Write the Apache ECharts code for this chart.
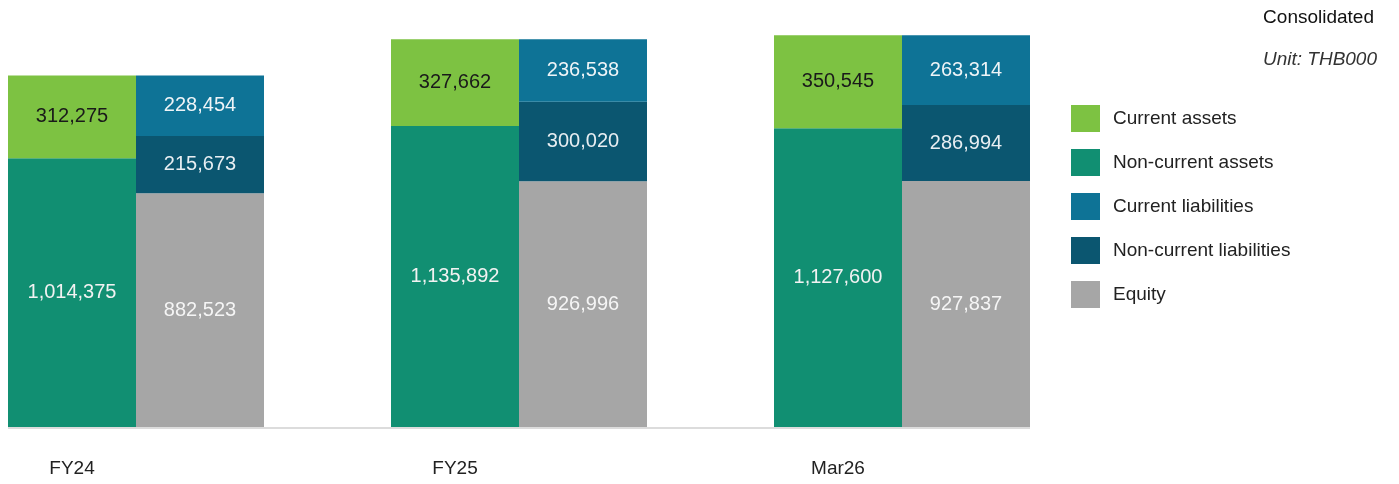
<!DOCTYPE html>
<html><head><meta charset="utf-8">
<script src="https://cdn.jsdelivr.net/npm/echarts@6/dist/echarts.min.js"></script>
<style>html,body{margin:0;padding:0;background:#fff}#c{width:1399px;height:484px}</style>
</head><body><div id="c"></div>
<script>
const categories = ['FY24', 'FY25', 'Mar26'];
const currentAssets = [312275, 327662, 350545];
const nonCurrentAssets = [1014375, 1135892, 1127600];
const currentLiabilities = [228454, 236538, 263314];
const nonCurrentLiabilities = [215673, 300020, 286994];
const equity = [882523, 926996, 927837];

const FONT = '"Liberation Sans", Arial, sans-serif';
function lbl(color) {
  return { show: true, position: 'inside', color: color, fontSize: 20, fontFamily: FONT,
    formatter: p => p.value.toLocaleString('en-US') };
}
function bar(name, stack, data, color, labelColor) {
  return { name: name, type: 'bar', stack: stack, data: data, barWidth: 128, barGap: 0, clip: false,
    itemStyle: { color: color }, label: lbl(labelColor) };
}
const chart = echarts.init(document.getElementById('c'), null, { renderer: 'canvas' });
chart.setOption({
  animation: false,
  title: [
    { text: 'Consolidated', right: 20, top: 3, textStyle: { fontSize: 19, fontWeight: 'normal', color: '#111', fontFamily: FONT } },
    { text: 'Unit: THB000', right: 17, top: 45, textStyle: { fontSize: 19, fontWeight: 'normal', fontStyle: 'italic', color: '#333', fontFamily: FONT } }
  ],
  legend: {
    orient: 'vertical', left: 1071, top: 105, padding: 0, itemWidth: 29, itemHeight: 27, itemGap: 17,
    icon: 'rect',
    data: ['Current assets', 'Non-current assets', 'Current liabilities', 'Non-current liabilities', 'Equity'],
    textStyle: { fontSize: 19, color: '#222', fontFamily: FONT, padding: [0, 0, 0, 8] }
  },
  grid: { left: 136, right: 497, top: 3, bottom: 57 },
  xAxis: {
    type: 'category', data: categories, boundaryGap: false,
    axisLine: { show: false }, axisTick: { show: false },
    axisLabel: { margin: 32, fontSize: 19, color: '#222', fontFamily: FONT, padding: [0, 128, 0, 0] }
  },
  yAxis: { type: 'value', min: 0, max: 1600000, show: false, splitLine: { show: false } },
  graphic: [
    { type: 'line', shape: { x1: 8, y1: 428, x2: 1030, y2: 428 }, style: { stroke: '#dcdcdc', lineWidth: 2 }, silent: true }
  ],
  series: [
    bar('Non-current assets', 'a', nonCurrentAssets, '#118F72', '#f2f2f2'),
    bar('Current assets', 'a', currentAssets, '#7DC242', '#1a1a1a'),
    bar('Equity', 'l', equity, '#A6A6A6', '#f5f5f5'),
    bar('Non-current liabilities', 'l', nonCurrentLiabilities, '#0B5670', '#e8eef2'),
    bar('Current liabilities', 'l', currentLiabilities, '#0E7396', '#eef4f7')
  ]
});
</script></body></html>
